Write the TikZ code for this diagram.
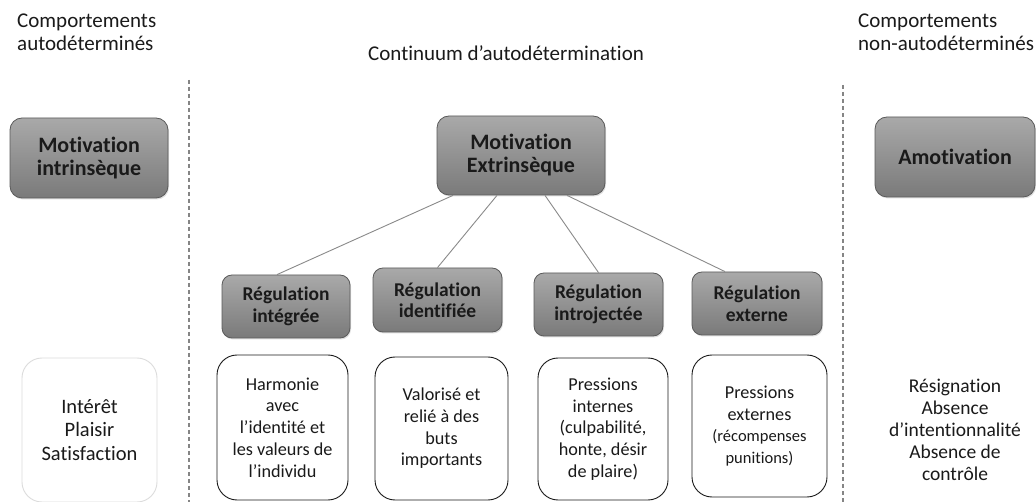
\documentclass[tikz,border=0pt]{standalone}
\usepackage{fontspec}
\setmainfont{Carlito}[Ligatures=NoCommon]
\usetikzlibrary{shadows}

\definecolor{boxtop}{HTML}{A9A9A9}
\definecolor{boxbot}{HTML}{7A7A7A}
\definecolor{boxline}{HTML}{5A5A5A}
\definecolor{linkgray}{HTML}{8A8A8A}
\definecolor{sepgray}{HTML}{858585}
\definecolor{softline}{HTML}{DCDCDC}
\definecolor{ink}{HTML}{1A1A1A}

\tikzset{
  graybox/.style={draw=boxline, line width=0.8pt, rounded corners=12pt,
    top color=boxtop, bottom color=boxbot, inner sep=0pt, align=center,
    text=ink, font=\bfseries\fontsize{22}{23}\selectfont,
    drop shadow={shadow xshift=1pt, shadow yshift=-1.5pt, opacity=0.25}},
  regbox/.style={graybox, rounded corners=10pt,
    font=\bfseries\fontsize{19.5}{21.5}\selectfont},
  descbox/.style={draw=ink, line width=0.9pt, rounded corners=20pt, fill=white,
    inner sep=0pt, align=center, text=ink, font=\fontsize{18.2}{21.7}\selectfont},
  link/.style={draw=linkgray, line width=0.9pt},
  sepline/.style={draw=sepgray, line width=1.3pt, dash pattern=on 4pt off 3pt},
  headtext/.style={inner sep=0pt, text=ink, font=\fontsize{21}{23}\selectfont},
}

\begin{document}
\begin{tikzpicture}[x=1pt, y=-1pt]
  \useasboundingbox[fill=white] (0,0) rectangle (1036,502);

  % column headings
  \node[headtext, anchor=west, align=left] (hleft) at (17,32)
    {Comportements\\autodéterminés};
  \node[headtext, anchor=base west] (hmid) at (368,61)
    {Continuum d’autodétermination};
  \node[headtext, anchor=west, align=left] (hright) at (858,32)
    {Comportements\\non-autodéterminés};

  % dashed separators
  \draw[sepline] (189,80) -- (189,502);
  \draw[sepline] (843,85) -- (843,502);

  % main motivation types
  \node[graybox, minimum width=158pt, minimum height=80pt] (intr) at (89,158)
    {Motivation\\intrinsèque};
  \node[graybox, minimum width=168pt, minimum height=79pt] (extr) at (521,155.5)
    {Motivation\\Extrinsèque};
  \node[graybox, minimum width=160pt, minimum height=80pt] (amot) at (955,157)
    {Amotivation};

  % regulation types
  \node[regbox, minimum width=128pt, minimum height=63pt] (rint) at (286,306.5)
    {Régulation\\intégrée};
  \node[regbox, minimum width=129pt, minimum height=64pt] (rid) at (437.5,300)
    {Régulation\\identifiée};
  \node[regbox, minimum width=129pt, minimum height=63pt] (rintro) at (598.5,304.5)
    {Régulation\\introjectée};
  \node[regbox, minimum width=130pt, minimum height=63pt] (rext) at (757,303.5)
    {Régulation\\externe};

  % links from extrinsic motivation to regulations
  \draw[link] ([xshift=-68pt]extr.south) -- ([xshift=-9pt]rint.north);
  \draw[link] ([xshift=-24pt]extr.south) -- (rid.north);
  \draw[link] ([xshift=24pt]extr.south) -- (rintro.north);
  \draw[link] ([xshift=46pt]extr.south) -- ([xshift=-32pt]rext.north);

  % descriptions
  \node[descbox, draw=softline, minimum width=135pt, minimum height=144pt,
        font=\fontsize{20.5}{23.5}\selectfont] (dintr) at (89.5,430)
    {Intérêt\\Plaisir\\Satisfaction};
  \node[descbox, minimum width=131pt, minimum height=145pt] (dint) at (282.5,427.5)
    {Harmonie\\avec\\l’identité et\\les valeurs de\\l’individu};
  \node[descbox, minimum width=133pt, minimum height=143pt] (did) at (441.5,428.5)
    {Valorisé et\\relié à des\\buts\\importants};
  \node[descbox, minimum width=130pt, minimum height=142pt] (dintro) at (603,429)
    {Pressions\\internes\\(culpabilité,\\honte, désir\\de plaire)};
  \node[descbox, minimum width=135pt, minimum height=142pt] (dext) at (759.5,426)
    {Pressions\\externes\\{\fontsize{16.5}{20}\selectfont(récompenses}\\{\fontsize{16.5}{20}\selectfont punitions)}};
  \node[headtext, align=center, font=\fontsize{19.5}{22}\selectfont] (damot) at (955,430)
    {Résignation\\Absence\\d’intentionnalité\\Absence de\\contrôle};
\end{tikzpicture}
\end{document}
